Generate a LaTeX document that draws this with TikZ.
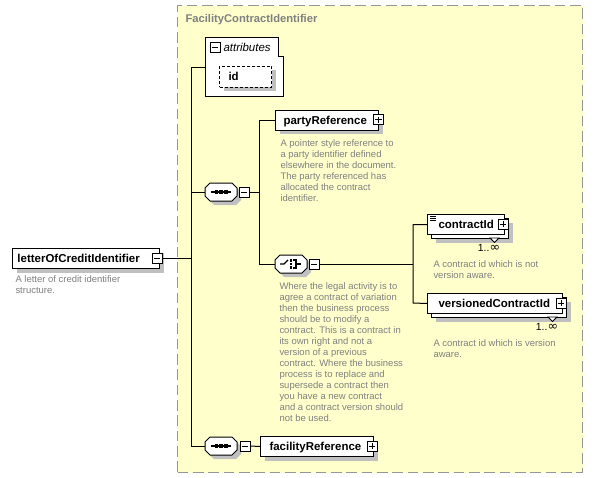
\documentclass[tikz,border=0pt]{standalone}
\usepackage{fontspec}
\setmainfont{Liberation Sans}
\newfontfamily\symfont{DejaVu Sans}
\usetikzlibrary{shadows}
\definecolor{bgyellow}{RGB}{255,255,204}
\definecolor{framegray}{RGB}{150,150,150}
\definecolor{descgray}{RGB}{128,128,128}
\definecolor{shadowgray}{RGB}{192,192,192}
\newcommand\infsym{{\symfont\fontsize{9.5}{9.5}\selectfont ∞}}
\begin{document}
\begin{tikzpicture}[x=0.75pt,y=-0.75pt,line width=0.75pt,
  shd/.style={drop shadow={shadow xshift=3pt,shadow yshift=-3pt,fill=shadowgray,opacity=1}},
  elem/.style={draw=black,fill=white,inner sep=0pt,anchor=north west,minimum height=15pt},
  lbl/.style={inner sep=0pt,anchor=base west,font=\fontsize{8.6}{10}\selectfont\bfseries},
  desc/.style={inner sep=0pt,anchor=north west,align=left,text=descgray,font=\fontsize{7.1}{8.25}\selectfont},
  occ/.style={inner sep=0pt,anchor=base,font=\fontsize{7.8}{8.25}\selectfont},
  pmbox/.style={draw=black,fill=white,inner sep=0pt,minimum size=7.5pt,line width=0.75pt},
  pmminus/.style={pmbox,path picture={\draw[line width=0.75pt] ([xshift=1.4pt]path picture bounding box.west) -- ([xshift=-1.4pt]path picture bounding box.east);}},
  pmplus/.style={pmbox,path picture={\draw[line width=0.75pt] ([xshift=1.4pt]path picture bounding box.west) -- ([xshift=-1.4pt]path picture bounding box.east) ([yshift=-1.4pt]path picture bounding box.north) -- ([yshift=1.4pt]path picture bounding box.south);}},
  compositor/.style={inner sep=0pt,minimum width=24pt,minimum height=13.5pt},
  octagon/.style={draw=black,fill=white,line width=0.75pt,shd},
  chevron/.style={draw=black,fill=white,line width=0.6pt},
  conn/.style={draw=black,line width=0.75pt}
]
\useasboundingbox (0,0) rectangle (593,478);

% container
\node[draw=framegray,fill=bgyellow,dash pattern=on 8pt off 3.5pt,line width=0.9pt,inner sep=0pt,anchor=north west,minimum width=405*0.75pt,minimum height=467*0.75pt] (frame) at (177,5) {};
\node[inner sep=0pt,anchor=base west,text=descgray,font=\fontsize{8.4}{10}\selectfont\bfseries] (title) at (185,23) {FacilityContractIdentifier};

% attributes
\node[inner sep=0pt,anchor=north west,minimum width=78*0.75pt,minimum height=59*0.75pt] (attr) at (205,38) {};
\draw[fill=white] (205,38) -- (278,38) -- (278,57) -- (283,57) -- (283,97) -- (205,97) -- cycle;
\node[pmminus] (attrm) at (215,48) {};
\node[inner sep=0pt,anchor=base west,font=\fontsize{8.6}{10}\selectfont\itshape] (attrt) at (223,52) {attributes};
\node[draw=black,fill=white,dash pattern=on 2.25pt off 1.5pt,inner sep=0pt,anchor=north west,minimum width=52*0.75pt,minimum height=21*0.75pt,shd] (idb) at (219,66) {};
\node[lbl] (idt) at (228,80.5) {id};
\coordinate (attrIn) at (205,68);

% root element
\node[elem,shd,minimum width=147*0.75pt] (letter) at (12,248) {};
\node[lbl] (lettert) at (17,262) {letterOfCreditIdentifier};
\node[pmminus] (letterm) at (157,258) {};
\node[desc] (letterd) at (15,275.5) {A letter of credit identifier\\structure.};

% main bus
\coordinate (bus) at (191,446);

% sequence 1
\node[compositor] (seq1) at (221,192) {};
\begin{scope}[shift={(seq1.center)}]
  \path[octagon] (-16,-4) -- (-11,-9) -- (11,-9) -- (16,-4) -- (16,4) -- (11,9) -- (-11,9) -- (-16,4) -- cycle;
  \draw[line width=0.9pt] (-10,0) -- (10,0);
  \fill (-6.5,-1.6) rectangle (-3.3,1.6);
  \fill (-1.6,-1.6) rectangle (1.6,1.6);
  \fill (3.3,-1.6) rectangle (6.5,1.6);
\end{scope}
\node[pmminus] (seq1m) at (244,192) {};
\coordinate (bus2) at (259,264);

% partyReference
\node[elem,shd,minimum width=103*0.75pt] (party) at (275,110) {};
\node[lbl] (partyt) at (283,124) {partyReference};
\node[pmplus] (partyp) at (378.5,120) {};
\node[desc] (partyd) at (280,139.5) {A pointer style reference to\\a party identifier defined\\elsewhere in the document.\\The party referenced has\\allocated the contract\\identifier.};

% choice
\node[compositor] (choice) at (291,264) {};
\begin{scope}[shift={(choice.center)}]
  \path[octagon] (-16,-4) -- (-11,-9) -- (11,-9) -- (16,-4) -- (16,4) -- (11,9) -- (-11,9) -- (-16,4) -- cycle;
  \draw[line width=0.9pt] (-11,0) -- (-7,0) -- (-3,-4);
  \fill (-1,-4.6) rectangle (1.4,-2.2);
  \fill (-1,-1.2) rectangle (1.4,1.2);
  \fill (-1,2.2) rectangle (1.4,4.6);
  \draw[line width=0.9pt] (2,-4) -- (5,-4) -- (5,4) -- (2,4) (5,0) -- (10,0);
\end{scope}
\node[pmminus] (choicem) at (314,264) {};
\node[desc] (choiced) at (279,282.5) {Where the legal activity is to\\agree a contract of variation\\then the business process\\should be to modify a\\contract. This is a contract in\\its own right and not a\\version of a previous\\contract. Where the business\\process is to replace and\\supersede a contract then\\you have a new contract\\and a contract version should\\not be used.};
\coordinate (bus3) at (413,303);

% contractId
\node[elem,shd,minimum width=77*0.75pt] (cidb) at (431,218) {};
\node[elem,minimum width=77*0.75pt] (cid) at (427,214) {};
\draw[line width=0.6pt] (430,216.5) -- (436,216.5) (430,218.5) -- (436,218.5) (430,220.5) -- (436,220.5);
\node[lbl] (cidt) at (438,228) {contractId};
\node[pmplus] (cidp) at (503,224) {};
\draw[chevron] (490,238) -- (499,238) -- (494.5,242.5) -- cycle;
\node[occ] (cido) at (489,251.5) {1..\infsym};
\node[desc] (cidd) at (433,260.5) {A contract id which is not\\version aware.};

% versionedContractId
\node[elem,shd,minimum width=135*0.75pt] (vcidb) at (431,297) {};
\node[elem,minimum width=135*0.75pt] (vcid) at (427,293) {};
\node[lbl] (vcidt) at (438,307) {versionedContractId};
\node[pmplus] (vcidp) at (561,303) {};
\draw[chevron] (548,317) -- (557,317) -- (552.5,321.5) -- cycle;
\node[occ] (vcido) at (547,330.5) {1..\infsym};
\node[desc] (vcidd) at (433,339.5) {A contract id which is version\\aware.};

% sequence 2
\node[compositor] (seq2) at (221,446) {};
\begin{scope}[shift={(seq2.center)}]
  \path[octagon] (-16,-4) -- (-11,-9) -- (11,-9) -- (16,-4) -- (16,4) -- (11,9) -- (-11,9) -- (-16,4) -- cycle;
  \draw[line width=0.9pt] (-10,0) -- (10,0);
  \fill (-6.5,-1.6) rectangle (-3.3,1.6);
  \fill (-1.6,-1.6) rectangle (1.6,1.6);
  \fill (3.3,-1.6) rectangle (6.5,1.6);
\end{scope}
\node[pmminus] (seq2m) at (245,446) {};

% facilityReference
\node[elem,shd,minimum width=113*0.75pt] (fac) at (260,436) {};
\node[lbl] (fact) at (269,450) {facilityReference};
\node[pmplus] (facp) at (372,446) {};

% connectors
\draw[conn] (letterm.east) -- (letterm.east -| bus);
\draw[conn] (attrIn) -| (bus) -- (seq2.west);
\draw[conn] (seq1.west -| bus) -- (seq1.west);
\draw[conn] (seq1m.east) -- (seq1m.east -| bus2);
\draw[conn] (party.west) -| (bus2) -- (choice.west);
\draw[conn] (choicem.east) -- (choicem.east -| bus3);
\draw[conn] (cid.west) -| (bus3) -- (vcid.west);
\draw[conn] (seq2m.east) -- (fac.west);
\end{tikzpicture}
\end{document}
